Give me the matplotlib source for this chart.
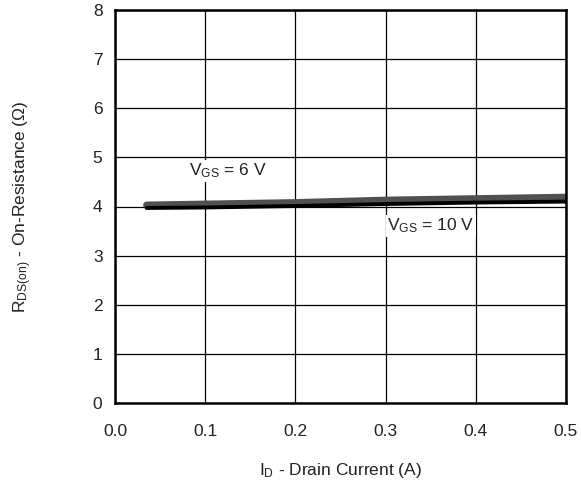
import matplotlib
matplotlib.use("Agg")
import matplotlib.pyplot as plt

plt.rcParams['font.family'] = ['Liberation Sans', 'DejaVu Sans']
plt.rcParams['mathtext.default'] = 'regular'

# drain current (A)
i_d = [0.035, 0.1, 0.2, 0.3, 0.4, 0.5]
# on-resistance (ohm)
r_vgs6 = [4.03, 4.05, 4.08, 4.13, 4.16, 4.19]
r_vgs10 = [3.97, 3.98, 4.01, 4.05, 4.08, 4.10]

x_ticks = [0.0, 0.1, 0.2, 0.3, 0.4, 0.5]
y_ticks = [0, 1, 2, 3, 4, 5, 6, 7, 8]

fig = plt.figure(figsize=(5.81, 4.88), dpi=100)
ax = fig.add_axes([115 / 581, 85 / 488, 451 / 581, 393 / 488])

ax.plot(i_d, r_vgs6, color='#505050', lw=5, solid_capstyle='round', zorder=3)
ax.plot(i_d, r_vgs10, color='black', lw=2.8, solid_capstyle='round', zorder=4)

ax.set_xlim(0, 0.5)
ax.set_ylim(0, 8)
ax.set_xticks(x_ticks)
ax.set_xticklabels([f"{t:.1f}" for t in x_ticks])
ax.set_yticks(y_ticks)
ax.grid(True, color='black', lw=0.9)
ax.tick_params(length=0, labelsize=12.5, colors='#222222')
ax.tick_params(axis='x', pad=15)
ax.tick_params(axis='y', pad=9)
for s in ax.spines.values():
    s.set_linewidth(1.8)
    s.set_zorder(5)

fs = 12.5
ax.text(0.125, 4.72, r'$V_{GS}$ = 6 V', ha='center', va='center', fontsize=fs,
        color='#222222', bbox=dict(facecolor='white', edgecolor='none', pad=1), zorder=2)
ax.text(0.35, 3.6, r'$V_{GS}$ = 10 V', ha='center', va='center', fontsize=fs,
        color='#222222', bbox=dict(facecolor='white', edgecolor='none', pad=1), zorder=2)

ax.set_xlabel(r'$I_D$ - Drain Current (A)', fontsize=fs, labelpad=16, color='#222222')
ax.set_ylabel(r'$R_{DS(on)}$ - On-Resistance ($\Omega$)', fontsize=fs, labelpad=42, color='#222222')

fig.savefig('out.png', dpi=100)
